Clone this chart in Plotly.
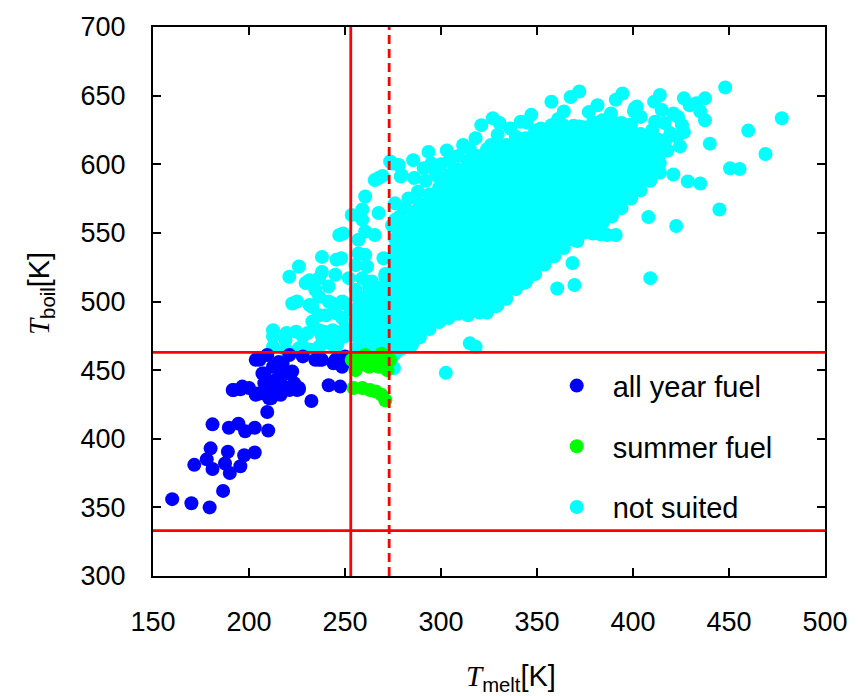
import plotly.graph_objects as go

# ---------------- data ----------------
blue_pts = [(160, 356), (170, 353), (179.5, 350), (186.5, 362), (171.5, 381), (178, 385), (181, 378),
            (180, 393), (187.5, 382), (190, 375), (189, 390.5), (195.5, 380), (197.5, 388), (203, 390),
            (181, 410.5), (189.5, 408), (194.5, 411), (198, 405.5), (203, 408), (210, 406), (209.5, 419.5),
            (192, 435.5), (195.5, 436), (200, 437), (203.5, 433), (208, 440.5), (211.5, 429.5), (216.5, 432),
            (203.5, 457.5), (208, 447.5), (209.5, 461), (228, 460), (234.5, 457.5), (244, 455), (250, 460),
            (248.5, 452.5), (241.5, 439), (247.5, 438), (232.5, 427.5), (226, 436), (222.5, 449), (221, 461),
            (205.5, 457.5), (217.5, 447.5), (225, 435.5), (236.5, 457.5), (212.5, 452.5), (217.5, 455),
            (219, 447.5), (223.5, 440.5), (221, 435.5), (212.5, 435.5), (214, 443), (210.5, 440.5),
            (208, 433), (203.5, 432), (191.5, 435.5), (196.5, 438), (216.5, 440.5), (215.5, 456),
            (238, 457.5), (245, 457.5), (207, 447.5), (205.5, 433), (210.5, 429.5), (220, 437), (226, 437)]

green_pts = [(257, 458.5), (262.5, 452.5), (255.5, 450), (269, 462), (267.5, 452.5), (272, 450),
             (273.5, 457.5), (254.5, 437), (259, 437), (263, 435.5), (266, 434.5), (269, 432), (271, 428),
             (253.5, 457.5), (260.5, 461), (265, 458), (258, 454), (270.5, 456)]

cyan_scattered = [
    (273.5, 602), (278, 599.5), (279.5, 592), (285.5, 603), (267.5, 590), (269.5, 591.5), (265.5, 588.5),
    (260.5, 576.5), (276, 571.5), (259, 567), (253.5, 563), (267.5, 564.5), (278.5, 562), (286.5, 565.5),
    (259, 559.5), (274.5, 555.5), (260.5, 551), (265.5, 548.5), (278, 547), (282, 549.5), (257, 545),
    (260.5, 534), (257, 535), (270, 531.5), (279.5, 532.5), (255.5, 526.5), (261.5, 525.5), (278, 523),
    (259, 517), (264, 514.5), (271, 518), (255.5, 508.5), (262.5, 511), (268, 510), (272, 507), (259, 495),
    (267.5, 491.5), (264, 503.5), (264, 497.5), (255.5, 485.5), (258.5, 484), (265.5, 484), (271, 486.5),
    (257, 477), (264, 481.5), (260.5, 472), (267.5, 474.5), (274.5, 477), (257, 467.5), (264, 468),
    (271, 467.5), (278, 467), (284.5, 468), (281.5, 486.5), (278, 501), (283, 496), (278, 511),
    (274.5, 460), (275.5, 451.5),
    (247, 548.5), (249, 549.5), (238, 532.5), (245.5, 530.5), (248, 531.5), (238, 521.5), (231.5, 515.5),
    (236.5, 517), (245, 519.5), (252, 517), (241.5, 511), (234.5, 508.5), (236.5, 503.5), (233, 496),
    (222.5, 498.5), (225, 500), (231.5, 497.5), (241.5, 500), (243.5, 498.5), (248.5, 500), (250, 498.5),
    (240, 490), (245, 491.5), (253, 494), (233, 485.5), (236.5, 490), (212.5, 479), (219.5, 477),
    (224.5, 478), (230.5, 477), (236.5, 479), (239, 478), (243.5, 479), (238, 474.5), (244, 475.5),
    (249.5, 474.5), (240, 470.5), (246, 468.5), (212.5, 467), (219, 465), (226, 466), (231.5, 465),
    (236.5, 467), (228, 474.5), (221, 518), (226, 525.5), (229.5, 513.5), (250, 480.5), (248.5, 488),
    (212.5, 474.5), (219, 472), (228, 467), (238, 469.5), (243.5, 468.5),
    (293.5, 609), (295, 600.5), (279, 591), (274.5, 600.5), (304.5, 603), (298.5, 591), (296, 576.5),
    (311.5, 614), (321, 628.5), (327, 633.5), (330.5, 630), (329.5, 621.5), (326, 614), (323.5, 602),
    (329.5, 606.5), (307, 596), (290, 565.5), (276, 559.5), (276, 556), (344.5, 630.5), (341.5, 631),
    (352, 626), (357.5, 645.5), (364, 638.5), (372, 653), (367.5, 649), (381.5, 643), (388.5, 637),
    (394.5, 651.5), (391, 647), (357.5, 628.5), (372, 627.5), (380.5, 630), (350.5, 625),
    (283, 575), (288, 580), (292, 588), (297, 595), (300, 600), (286, 590), (291, 597), (303, 610),
    (309, 606), (315, 611), (281, 568), (318, 619), (336, 626), (347, 636), (361, 633), (377, 638),
    (401, 641), (404, 634.5), (402, 642), (400.5, 638.5), (411, 645.5), (414, 650.5), (415, 639.5),
    (426.5, 648), (429.5, 643), (433, 644.5), (437.5, 648), (435, 638.5), (437.5, 632), (421, 637),
    (423.5, 634.5), (416.5, 630), (426.5, 623.5), (419.5, 622.5), (423, 620), (424.5, 613), (440, 615),
    (411.5, 631), (407.5, 618), (404, 609), (398.5, 613), (395, 603), (412.5, 603), (407.5, 598),
    (402, 591), (421, 592.5), (417, 617.5), (425.5, 628.5), (410, 625), (418, 610), (413, 618),
    (302.5, 448), (315, 469.5), (318, 467), (328.5, 496.5), (360.5, 509.5), (369.5, 512), (368.5, 528),
    (409, 517), (445, 567), (448, 656), (477.5, 633.5), (460, 624.5), (469, 607.5), (450.5, 597),
    (455.5, 596.5), (428.5, 587.5), (435, 586), (422.5, 555), (408, 561.5), (386.5, 548.5), (391, 548.5),
    (383, 549), (379, 549.5), (371, 544), (385, 564.5), (389, 564.5), (398.5, 579), (356.5, 532.5),
    (357, 542.5), (342.5, 513.5), (344.5, 515.5), (317.5, 494), (310.5, 497.5), (329.5, 497.5),
    (320, 492), (290, 483), (286, 478)]

# dense part of the "not suited" cloud, column by column (x, list of y)
cyan_dense_cols = [
    (257, [466, 473, 481, 488, 495, 502]),
    (262, [469, 477, 484, 491, 498, 505]),
    (267, [466, 474, 481, 488, 495, 503, 510]),
    (271, [470, 477, 484, 491, 499, 506, 513, 520]),
    (276, [462, 469, 476, 483, 490, 497, 504, 511, 518, 525, 532, 539, 546]),
    (280, [466, 473, 480, 487, 494, 501, 508, 515, 522, 529, 536, 543, 550, 556]),
    (285, [469, 476, 483, 490, 497, 504, 511, 518, 525, 532, 539, 546, 553, 560]),
    (289, [474, 481, 488, 495, 502, 509, 516, 523, 530, 537, 544, 551, 558, 565, 571]),
    (294, [480, 487, 494, 501, 508, 515, 522, 529, 536, 543, 550, 557, 564, 571, 578]),
    (299, [485, 492, 499, 506, 513, 520, 527, 534, 541, 548, 555, 562, 569, 576, 583]),
    (304, [488, 495, 502, 509, 516, 523, 530, 537, 544, 551, 558, 565, 572, 579, 586, 592]),
    (309, [491, 498, 505, 512, 519, 526, 533, 540, 547, 554, 561, 568, 575, 582, 589, 596]),
    (314, [490, 497, 504, 511, 518, 525, 532, 539, 546, 553, 560, 567, 574, 581, 588, 595, 602]),
    (319, [494, 501, 508, 515, 522, 529, 536, 543, 550, 557, 564, 571, 578, 585, 592, 599, 606]),
    (324, [492, 499, 506, 513, 520, 527, 534, 541, 548, 555, 562, 569, 576, 583, 590, 597, 604, 611]),
    (329, [497, 504, 511, 518, 525, 532, 539, 546, 553, 560, 567, 574, 581, 588, 595, 602, 609, 615]),
    (334, [502, 509, 516, 523, 530, 537, 544, 551, 558, 565, 572, 579, 586, 593, 600, 607, 614]),
    (339, [509, 516, 523, 530, 537, 544, 551, 558, 565, 572, 579, 586, 593, 600, 607, 614, 620]),
    (344, [514, 521, 528, 535, 542, 549, 556, 563, 570, 577, 584, 591, 598, 605, 612, 619]),
    (349, [520, 527, 534, 541, 548, 555, 562, 569, 576, 583, 590, 597, 604, 611, 618, 624]),
    (354, [527, 534, 541, 548, 555, 562, 569, 576, 583, 590, 597, 604, 611, 618, 625]),
    (359, [533, 540, 547, 554, 561, 568, 575, 582, 589, 596, 603, 610, 617, 624]),
    (364, [539, 546, 553, 560, 567, 574, 581, 588, 595, 602, 609, 616, 623, 628]),
    (369, [545, 552, 559, 566, 573, 580, 587, 594, 601, 608, 615, 622, 628]),
    (374, [550, 557, 564, 571, 578, 585, 592, 599, 606, 613, 620, 627]),
    (379, [553, 560, 567, 574, 581, 588, 595, 602, 609, 616, 623, 630]),
    (384, [557, 564, 571, 578, 585, 592, 599, 606, 613, 620, 627, 632]),
    (389, [562, 569, 576, 583, 590, 597, 604, 611, 618, 625, 631]),
    (394, [568, 575, 582, 589, 596, 603, 610, 617, 624, 630]),
    (399, [575, 582, 589, 596, 603, 610, 617, 624, 629]),
    (404, [581, 588, 595, 602, 609, 616, 622]),
    (409, [588, 595, 602, 609, 616, 622]),
    (414, [594, 601, 608, 615]),
]

melt_limits = [253, 273]      # solid, dashed vertical lines (K)
boil_limits = [333, 463]      # horizontal lines (K)
x_ticks = [150, 200, 250, 300, 350, 400, 450, 500]
y_ticks = [300, 350, 400, 450, 500, 550, 600, 650, 700]

# ---------------- build ----------------
bx, by = zip(*blue_pts)
gx, gy = zip(*green_pts)
cx = [p[0] for p in cyan_scattered]
cy = [p[1] for p in cyan_scattered]
for x, ys in cyan_dense_cols:
    cx += [x] * len(ys)
    cy += ys

MS = 14
fig = go.Figure()
fig.add_trace(go.Scatter(x=cx, y=cy, mode="markers", name="not suited", legendrank=3,
                         legendgroup="c", marker=dict(color="#00ffff", size=MS, line=dict(width=0))))
fig.add_trace(go.Scatter(x=list(bx), y=list(by), mode="markers", name="all year fuel", legendrank=1,
                         legendgroup="b", marker=dict(color="#0000ff", size=MS, line=dict(width=0))))
fig.add_trace(go.Scatter(x=list(gx), y=list(gy), mode="markers", name="summer fuel", legendrank=2,
                         legendgroup="g", marker=dict(color="#00ff00", size=MS, line=dict(width=0))))

RED = "#ff0000"
fig.add_shape(type="line", xref="x", yref="paper", x0=melt_limits[0], x1=melt_limits[0], y0=0, y1=1,
              line=dict(color=RED, width=2.8))
fig.add_shape(type="line", xref="x", yref="paper", x0=melt_limits[1], x1=melt_limits[1], y0=0, y1=1,
              line=dict(color=RED, width=2.8, dash="9px,5px"))
for b in boil_limits:
    fig.add_shape(type="line", xref="paper", yref="y", x0=0, x1=1, y0=b, y1=b,
                  line=dict(color=RED, width=2.8))

axis_common = dict(showline=True, linecolor="black", linewidth=2, mirror="ticks", ticks="inside",
                   ticklen=8, tickwidth=2, tickcolor="black", showgrid=False, zeroline=False,
                   tickfont=dict(family="Liberation Sans", size=27, color="black"))
fig.update_xaxes(range=[150, 500], tickvals=x_ticks, ticktext=[str(v) for v in x_ticks],
                 ticklabelstandoff=21, **axis_common)
fig.update_yaxes(range=[300, 700], tickvals=y_ticks, ticktext=[str(v) for v in y_ticks],
                 ticklabelstandoff=20, **axis_common)

T = '<span style="font-family:Liberation Serif"><i>T</i></span>'
fig.add_annotation(xref="paper", yref="paper", x=0.533, y=-0.186, showarrow=False,
                   text=T + "<sub>melt</sub>[K]", font=dict(family="Liberation Sans", size=29, color="black"),
                   xanchor="center", yanchor="middle")
fig.add_annotation(xref="paper", yref="paper", x=-0.167, y=0.515, showarrow=False, textangle=-90,
                   text=T + "<sub>boil</sub>[K]", font=dict(family="Liberation Sans", size=29, color="black"),
                   xanchor="center", yanchor="middle")

fig.update_layout(
    width=860, height=696,
    margin=dict(l=153, r=31, t=27, b=120),
    plot_bgcolor="white", paper_bgcolor="white",
    showlegend=True,
    legend=dict(x=0.577, y=0.393, xanchor="left", yanchor="top", bgcolor="rgba(0,0,0,0)",
                font=dict(family="Liberation Sans", size=29, color="black"),
                tracegroupgap=20, itemwidth=62, traceorder="grouped"),
)

fig.write_html("out.html", config={"displayModeBar": False},
               post_script="document.body.style.margin='0';")
